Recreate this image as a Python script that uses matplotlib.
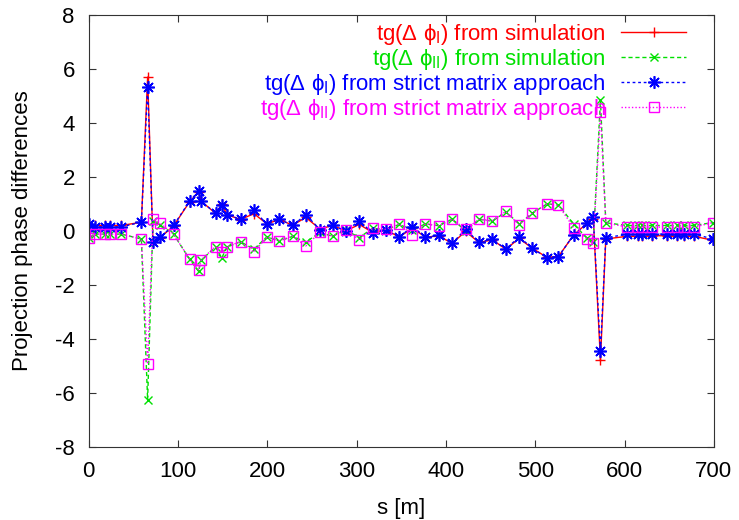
import numpy as np
import matplotlib
matplotlib.use('Agg')
import matplotlib.pyplot as plt

plt.rcParams['font.family'] = ['Liberation Sans', 'DejaVu Sans']
plt.rcParams['mathtext.fontset'] = 'custom'
plt.rcParams['mathtext.rm'] = 'Liberation Sans'
plt.rcParams['mathtext.it'] = 'Liberation Sans'
plt.rcParams['mathtext.bf'] = 'Liberation Sans'
plt.rcParams['axes.unicode_minus'] = False

#%% data
s = [0, 7.5, 18, 24, 36.5, 59, 66, 72, 80, 95, 113, 123, 126, 142, 149, 155, 170, 185,
     199.5, 213.5, 228.5, 243, 259, 273, 288, 303, 318, 333, 347.5, 362.5, 377, 392,
     407, 422, 437, 452, 467, 482, 496.5, 513, 526, 543, 558, 565, 573, 579, 603,
     614.5, 619, 631, 648, 659, 666.5, 678, 699]

tg_I_sim = [0.22, 0.2, 0.2, 0.2, 0.2, 0.32, 5.7, -0.42, -0.25, 0.18, 1.08, 1.45, 1.1,
            0.65, 0.98, 0.6, 0.42, 0.64, 0.26, 0.42, 0.21, 0.5, 0.07, 0.2, 0.0, 0.24,
            -0.06, 0.04, -0.23, 0.1, -0.23, -0.19, -0.46, -0.02, -0.43, -0.33, -0.68,
            -0.28, -0.64, -0.98, -0.95, -0.15, 0.28, 0.45, -4.78, -0.3, -0.2, -0.2,
            -0.2, -0.18, -0.18, -0.19, -0.19, -0.2, -0.35]

tg_II_sim = [-0.27, -0.12, -0.12, -0.12, -0.12, -0.3, -6.26, 0.35, 0.22, -0.12, -1.05,
             -1.5, -1.08, -0.6, -1.0, -0.6, -0.4, -0.68, -0.22, -0.38, -0.2, -0.42,
             -0.06, -0.2, 0.03, -0.25, 0.1, 0.04, 0.24, 0.04, 0.26, 0.19, 0.44, 0.0,
             0.43, 0.36, 0.7, 0.27, 0.65, 1.0, 0.97, 0.25, -0.27, -0.4, 4.85, 0.3, 0.2,
             0.2, 0.2, 0.2, 0.2, 0.2, 0.2, 0.2, 0.31]

tg_I_mat = [0.26, 0.14, 0.14, 0.14, 0.15, 0.32, 5.35, -0.4, -0.23, 0.2, 1.1, 1.48, 1.1,
            0.66, 0.96, 0.6, 0.43, 0.78, 0.24, 0.43, 0.2, 0.6, 0.05, 0.2, 0.0, 0.37,
            -0.08, 0.02, -0.23, 0.16, -0.23, -0.17, -0.46, 0.06, -0.43, -0.3, -0.68,
            -0.22, -0.64, -1.0, -0.95, -0.15, 0.3, 0.5, -4.47, -0.25, -0.13, -0.13,
            -0.13, -0.12, -0.12, -0.12, -0.12, -0.12, -0.3]

tg_II_mat = [-0.27, -0.12, -0.12, -0.12, -0.12, -0.3, -4.94, 0.43, 0.28, -0.12, -1.05,
             -1.44, -1.07, -0.58, -0.8, -0.58, -0.4, -0.79, -0.23, -0.36, -0.19, -0.56,
             -0.06, -0.19, 0.04, -0.33, 0.1, 0.06, 0.26, -0.15, 0.26, 0.19, 0.44, 0.06,
             0.43, 0.38, 0.72, 0.22, 0.65, 1.0, 0.95, 0.12, -0.3, -0.45, 4.42, 0.3, 0.14,
             0.14, 0.14, 0.14, 0.14, 0.14, 0.14, 0.14, 0.31]

#%% plot
fig = plt.figure(figsize=(7.39, 5.2), dpi=100)
ax = fig.add_axes([0.12, 0.141, 0.846, 0.83])

ax.plot(s, tg_I_sim, color='#ff0000', lw=1, ls='-', marker='+', ms=7, mew=1,
        label=r'tg($\Delta$ $\phi_{\mathrm{I}}$) from simulation')
ax.plot(s, tg_II_sim, color='#00e000', lw=1, ls=(0, (3, 2)), marker='x', ms=6, mew=1,
        label=r'tg($\Delta$ $\phi_{\mathrm{II}}$) from simulation')
ax.plot(s, tg_I_mat, color='#0000ff', lw=1, ls=(0, (2, 2)), marker=(8, 2, 0), ms=9, mew=1.2,
        label=r'tg($\Delta$ $\phi_{\mathrm{I}}$) from strict matrix approach')
ax.plot(s, tg_II_mat, color='#ff00ff', lw=1, ls=(0, (1, 1.5)), marker='s', ms=7, mew=1,
        mfc='none', label=r'tg($\Delta$ $\phi_{\mathrm{II}}$) from strict matrix approach')

ax.set_xlim(0, 700)
ax.set_ylim(-8, 8)
ax.set_xticks(np.arange(0, 701, 100))
ax.set_yticks(np.arange(-8, 9, 2))
ax.tick_params(direction='in', top=True, right=True, length=5, labelsize=16, pad=10,
               color='#333333')
for sp in ax.spines.values():
    sp.set_color('#333333')
ax.set_xlabel('s [m]', fontsize=16, labelpad=12)
ax.set_ylabel('Projection phase differences', fontsize=16, labelpad=16)

ax.legend(loc='upper right', bbox_to_anchor=(0.955, 0.985), frameon=False,
          markerfirst=False, labelcolor='linecolor', fontsize=16, numpoints=1,
          handlelength=2.9, handletextpad=0.7, labelspacing=0.0, borderaxespad=0,
          borderpad=0)

plt.savefig('out.png', dpi=100)
